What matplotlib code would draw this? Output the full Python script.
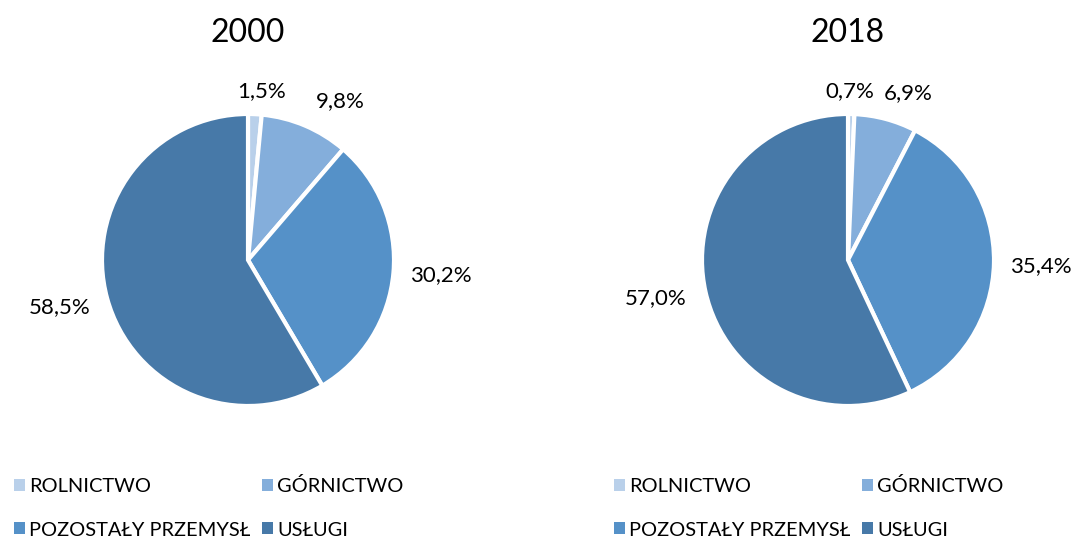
import numpy as np
import matplotlib.pyplot as plt
from matplotlib.patches import Patch

plt.rcParams['font.family'] = ['Lato', 'DejaVu Sans']

categories = ['ROLNICTWO', 'GÓRNICTWO', 'POZOSTAŁY PRZEMYSŁ', 'USŁUGI']
years = ['2000', '2018']
shares_2000 = [1.5, 9.8, 30.2, 58.5]
shares_2018 = [0.7, 6.9, 35.4, 57.0]
colors = ['#b9d0ea', '#84aedb', '#5591c8', '#4779a8']

W, H = 1071, 538
fig = plt.figure(figsize=(W / 100, H / 100), dpi=100)

R = 146
centers = [(248, 260), (848, 260)]
# label placement (radius units), Excel "outside end" style
label_xy = [
    [(0.09, 1.16), (0.63, 1.09), (1.32, -0.10), (-1.29, -0.32)],
    [(0.01, 1.16), (0.41, 1.14), (1.32, -0.04), (-1.32, -0.26)],
]

for (cx, cy), year, shares, lxy in zip(centers, years, [shares_2000, shares_2018], label_xy):
    ax = fig.add_axes([(cx - R) / W, (H - cy - R) / H, 2 * R / W, 2 * R / H])
    wedges, _ = ax.pie(shares, colors=colors, startangle=90, counterclock=False,
                       wedgeprops=dict(edgecolor='white', linewidth=3))
    for v, (x, y) in zip(shares, lxy):
        ax.text(x, y, f'{v:.1f}%'.replace('.', ','),
                ha='center', va='center', fontsize=16, color='black')
    ax.set_xlim(-1, 1)
    ax.set_ylim(-1, 1)
    ax.set_axis_off()
    fig.text(cx / W, 1 - 33 / H, year, ha='center', va='center', fontsize=23)

    # legend filled row by row, as in the original
    order = [0, 2, 1, 3]
    handles = [Patch(facecolor=colors[i], edgecolor='none') for i in order]
    fig.legend(handles, [categories[i] for i in order], ncol=2, loc='center left',
               bbox_to_anchor=((cx - 248 + 14) / W, 1 - 508 / H), frameon=False,
               fontsize=14.4, handlelength=0.55, handleheight=0.55, handletextpad=0.22,
               labelspacing=1.3, columnspacing=0.55, borderpad=0, borderaxespad=0)

fig.savefig('out.png', dpi=100)
